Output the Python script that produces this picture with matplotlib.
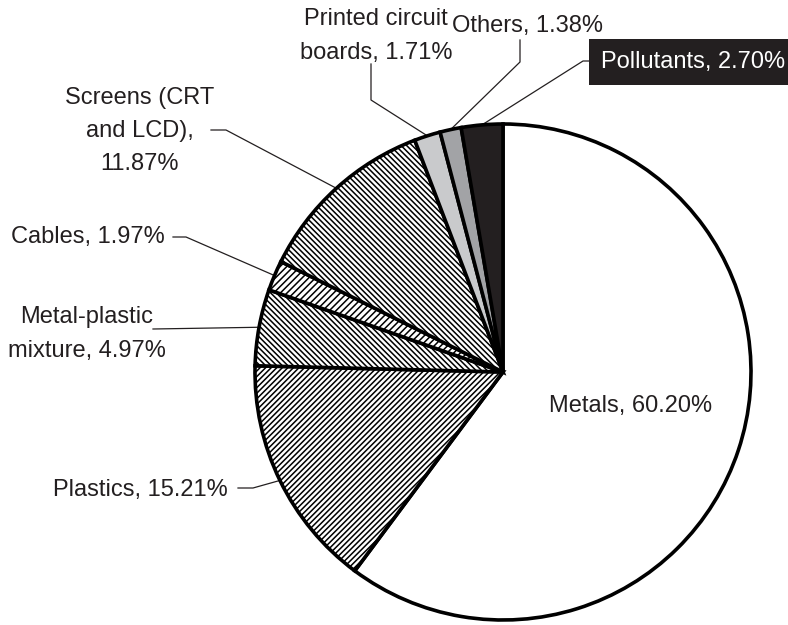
import numpy as np
import matplotlib
matplotlib.use("Agg")
import matplotlib.pyplot as plt

plt.rcParams['font.family'] = 'Liberation Sans'
plt.rcParams['hatch.linewidth'] = 1.1

# ============================================================
# Data
# ============================================================
categories = ["Metals", "Plastics", "Metal-plastic mixture", "Cables",
              "Screens (CRT and LCD)", "Printed circuit boards", "Others",
              "Pollutants"]
shares = [60.20, 15.21, 4.97, 1.97, 11.87, 1.71, 1.38, 2.70]
label_texts = ["Metals, 60.20%", "Plastics, 15.21%",
               "Metal-plastic\nmixture, 4.97%", "Cables, 1.97%",
               "Screens (CRT\nand LCD),\n11.87%", "Printed circuit\nboards, 1.71%",
               "Others, 1.38%", "Pollutants, 2.70%"]

# ============================================================
# Styles / layout (pixel coords, y measured from the top)
# ============================================================
W, H = 788, 625
center_px = (503, 372)
radius = 248
face = ["white", "white", "white", "white", "white", "#c9cacc", "#a2a3a6", "#231f20"]
hatches = [None, "/" * 6, "\\" * 6, "/" * 5, "\\" * 6, None, None, None]

# text anchor (center) and leader path start points before reaching the wedge
label_pos = [(631, 406), (140, 490), (87, 334), (88, 237),
             (140, 131), (376, 36), (528, 26), (693, 62)]
leader_pts = [None,
              [(238, 488), (253, 488)],
              [(153, 329)],
              [(173, 237), (186, 237)],
              [(211, 130), (226, 130)],
              [(371, 64), (371, 100)],
              [(520, 40), (520, 62)],
              [(599, 61), (583, 61)]]

fig = plt.figure(figsize=(W / 100, H / 100), dpi=100)
ax = fig.add_axes([0, 0, 1, 1])

cx, cy = center_px[0], H - center_px[1]
wedges, _ = ax.pie(shares, radius=radius, center=(cx, cy), startangle=90,
                   counterclock=False, colors=face, frame=True,
                   wedgeprops=dict(edgecolor="black", linewidth=2.6))
for w, h in zip(wedges, hatches):
    if h:
        w.set_hatch(h)
ax.set_xlim(0, W)
ax.set_ylim(0, H)
ax.set_aspect("equal")
ax.axis("off")

for i, (w, txt) in enumerate(zip(wedges, label_texts)):
    lx, ly = label_pos[i]
    if i == len(wedges) - 1:
        ax.text(lx, H - ly, txt, color="white", fontsize=17, ha="center", va="center",
                bbox=dict(boxstyle="square,pad=0.5", facecolor="#231f20", edgecolor="none"))
    else:
        ax.text(lx, H - ly, txt, ha="center", va="center", fontsize=17,
                linespacing=1.65, color="#231f20")
    if leader_pts[i] is None:
        continue
    mid = np.deg2rad((w.theta1 + w.theta2) / 2)
    ex = cx + radius * np.cos(mid)
    ey = cy + radius * np.sin(mid)
    xs = [p[0] for p in leader_pts[i]] + [ex]
    ys = [H - p[1] for p in leader_pts[i]] + [ey]
    ax.plot(xs, ys, color="#231f20", lw=0.9, zorder=0.5)

fig.savefig("out.png", dpi=100)
